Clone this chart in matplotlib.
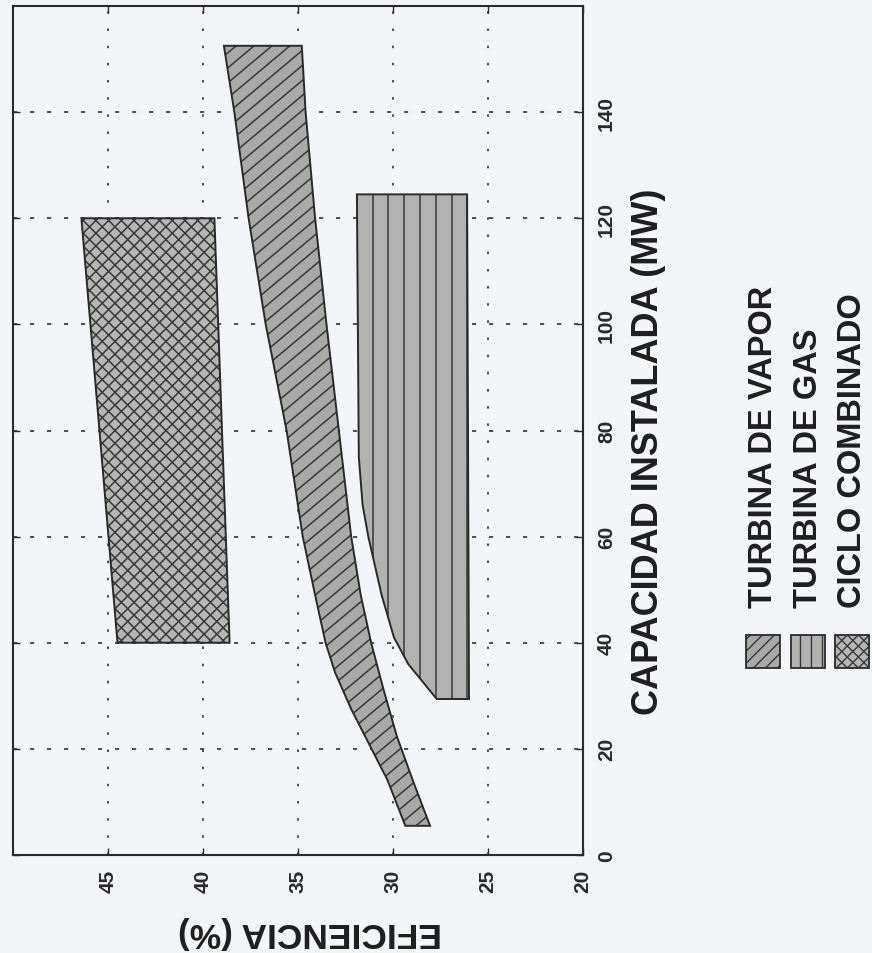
import numpy as np
import matplotlib
matplotlib.use("Agg")
import matplotlib.pyplot as plt
from matplotlib.patches import Polygon, Rectangle
from matplotlib.lines import Line2D
from matplotlib.transforms import IdentityTransform

plt.rcParams['font.family'] = ['Liberation Sans', 'DejaVu Sans']

# Turbina de vapor: high-efficiency edge and low-efficiency edge (MW, %)
vapor_cap_hi = [152.5, 140, 120, 100, 80, 60, 49, 40, 34.4, 27.5, 20.5, 14.2, 5.5]
vapor_eff_hi = [38.9, 38.35, 37.6, 36.7, 35.6, 34.75, 34.1, 33.55, 33.05, 32.2, 31.2, 30.3, 29.35]
vapor_cap_lo = [152.5, 140, 120, 100, 80, 60, 49, 40, 31.2, 22.4, 13.5, 5.5]
vapor_eff_lo = [34.8, 34.6, 34.1, 33.5, 32.85, 32.2, 31.7, 31.15, 30.5, 29.8, 28.9, 28.05]

# Turbina de gas
gas_cap_left = [124.5, 75, 66, 60, 49, 41, 36, 29.4]
gas_eff_left = [31.9, 31.8, 31.6, 31.3, 30.6, 29.95, 29.2, 27.7]
gas_cap_right = [124.5, 29.4]
gas_eff_right = [26.1, 26.0]

# Ciclo combinado
ciclo_cap = [120, 120, 40, 40]
ciclo_eff = [46.4, 39.4, 38.6, 44.5]

eff_ticks = [20, 25, 30, 35, 40, 45]
cap_ticks = [0, 20, 40, 60, 80, 100, 120, 140]
legend_labels = ["TURBINA DE VAPOR", "TURBINA DE GAS", "CICLO COMBINADO"]

W, H = 872, 954
BG = '#f4f5f9'
EDGE = '#2a2a2a'
HATCH = '#383838'
TXT = '#1e1e1e'


def fx(px):
    return px / W


def fy(py):
    return 1 - py / H


def add_hatch(owner, clip, box, angle, step, lw=1.1, phase=0.0):
    # straight hatch lines in pixel space, clipped to a patch
    x0, y0, x1, y1 = box
    cx, cy = (x0 + x1) / 2, (y0 + y1) / 2
    r = np.hypot(x1 - x0, y1 - y0)
    a = np.radians(angle)
    dx, dy = np.cos(a), np.sin(a)
    nx, ny = -dy, dx
    for k in np.arange(-r, r + step, step) + phase:
        px, py = cx + k * nx, cy + k * ny
        ln = Line2D([px - r * dx, px + r * dx], [py - r * dy, py + r * dy],
                    transform=IdentityTransform(), color=HATCH, lw=lw, zorder=2)
        owner.add_artist(ln)
        ln.set_clip_path(clip)


fig = plt.figure(figsize=(W / 100, H / 100), dpi=100, facecolor=BG)
ax = fig.add_axes([fx(13), fy(856), fx(570), 849 / H])
ax.set_facecolor(BG)
ax.set_xlim(50, 20)
ax.set_ylim(0, 160)

ax.set_axisbelow(True)
ax.grid(axis='x', color='#333333', lw=1.2, linestyle=(0, (1.5, 8.8)))
ax.grid(axis='y', color='#333333', lw=1.2, linestyle=(0, (2.5, 7.7)))

shapes = [
    (vapor_eff_hi + vapor_eff_lo[::-1], vapor_cap_hi + vapor_cap_lo[::-1], '#a9a9a9'),
    (gas_eff_left + gas_eff_right[::-1], gas_cap_left + gas_cap_right[::-1], '#b2b2b2'),
    (ciclo_eff, ciclo_cap, '#b6b6b6'),
]
hatches = [[(40, 11.5)], [(90, 15.8)], [(45, 9.0), (135, 9.0)]]

box = ax.bbox.extents
for (xs, ys, col), hs in zip(shapes, hatches):
    verts = np.column_stack([xs, ys])
    body = Polygon(verts, closed=True, facecolor=col, edgecolor='none', zorder=1)
    ax.add_patch(body)
    for ang, step in hs:
        add_hatch(ax, body, box, ang, step)
    ax.add_patch(Polygon(verts, closed=True, fill=False, edgecolor=EDGE, lw=1.4, zorder=3))

for s in ax.spines.values():
    s.set_linewidth(1.5)
    s.set_color(EDGE)

ax.set_xticks(eff_ticks)
ax.set_yticks(cap_ticks)
ax.tick_params(direction='in', length=5, width=1, top=True, bottom=True,
               left=True, right=True, labelleft=False, labelright=True,
               labelsize=15, pad=10, colors=EDGE)
ax.tick_params(axis='x', labelrotation=90)
ax.tick_params(axis='y', labelrotation=90)
for lbl in ax.get_xticklabels() + ax.get_yticklabels():
    lbl.set_fontweight('bold')
for lbl in ax.get_yticklabels():
    lbl.set_va('center')

fig.text(fx(310), fy(933), "EFICIENCIA (%)", rotation=180, ha='center', va='center',
         fontsize=25.5, fontweight='bold', color=TXT)
fig.text(fx(648), fy(452), "CAPACIDAD INSTALADA (MW)", rotation=90, ha='center',
         va='center', fontsize=26, fontweight='bold', color=TXT)

# rotated legend drawn by hand
sw_x = [746, 791, 835]
txt_x = [763, 808, 852]
sw_hatch = [[(45, 8.5)], [(90, 11.0)], [(45, 7.8), (135, 7.8)]]
for i, lab in enumerate(legend_labels):
    col = shapes[i][2]
    rect = Rectangle((fx(sw_x[i]), fy(669)), 34 / W, 33 / H, facecolor=col,
                     edgecolor='none')
    fig.add_artist(rect)
    sbox = (sw_x[i], H - 669, sw_x[i] + 34, H - 636)
    for ang, step in sw_hatch[i]:
        add_hatch(fig, rect, sbox, ang, step, lw=1.0)
    fig.add_artist(Rectangle((fx(sw_x[i]), fy(669)), 34 / W, 33 / H, fill=False,
                             edgecolor=EDGE, lw=1.3, zorder=3))
    fig.text(fx(txt_x[i]), fy(608), lab, rotation=90, ha='center', va='bottom',
             fontsize=23.5, fontweight='bold', color=TXT)

fig.savefig("out.png", dpi=100, facecolor=BG)
